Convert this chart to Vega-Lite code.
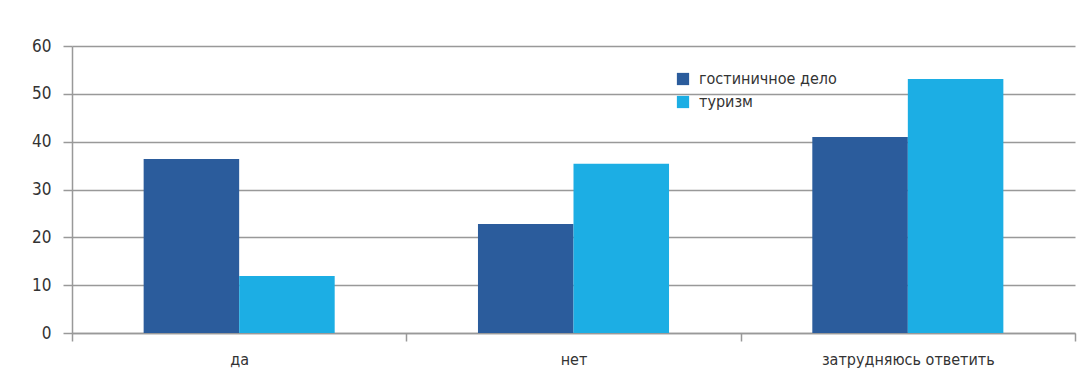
{
  "$schema": "https://vega.github.io/schema/vega-lite/v6.json",
  "width": 1003,
  "height": 287,
  "autosize": {"type": "none"},
  "padding": {"left": 72, "top": 46, "right": 13, "bottom": 54},
  "background": "white",
  "config": {
    "view": {"stroke": null},
    "font": "DejaVu Sans Condensed, sans-serif"
  },
  "data": {
    "values": [
      {"answer": "да", "group": "гостиничное дело", "value": 36.4},
      {"answer": "да", "group": "туризм", "value": 11.9},
      {"answer": "нет", "group": "гостиничное дело", "value": 22.8},
      {"answer": "нет", "group": "туризм", "value": 35.4},
      {"answer": "затрудняюсь ответить", "group": "гостиничное дело", "value": 41.0},
      {"answer": "затрудняюсь ответить", "group": "туризм", "value": 53.1}
    ]
  },
  "mark": {"type": "bar"},
  "encoding": {
    "x": {
      "field": "answer",
      "type": "nominal",
      "sort": ["да", "нет", "затрудняюсь ответить"],
      "scale": {"paddingInner": 0, "paddingOuter": 0},
      "axis": {
        "title": null,
        "labelAngle": 0,
        "labelFontSize": 16,
        "labelLimit": 0,
        "labelColor": "#333333",
        "labelPadding": 10,
        "tickBand": "extent",
        "tickSize": 8,
        "tickColor": "#999999",
        "tickWidth": 1.5,
        "domainColor": "#999999",
        "domainWidth": 1.5,
        "grid": false
      }
    },
    "xOffset": {
      "field": "group",
      "type": "nominal",
      "sort": ["гостиничное дело", "туризм"],
      "scale": {"paddingInner": 0, "paddingOuter": 0.75}
    },
    "y": {
      "field": "value",
      "type": "quantitative",
      "scale": {"domain": [0, 60], "nice": false},
      "axis": {
        "title": null,
        "values": [0, 10, 20, 30, 40, 50, 60],
        "labelFontSize": 17,
        "labelColor": "#333333",
        "labelPadding": 12,
        "tickSize": 9,
        "tickColor": "#999999",
        "tickWidth": 1.5,
        "domainColor": "#999999",
        "domainWidth": 1.5,
        "grid": true,
        "gridColor": "#999999",
        "gridWidth": 1.5
      }
    },
    "color": {
      "field": "group",
      "type": "nominal",
      "sort": ["гостиничное дело", "туризм"],
      "scale": {"domain": ["гостиничное дело", "туризм"], "range": ["#2b5c9c", "#1caee4"]},
      "legend": {
        "title": null,
        "orient": "none",
        "legendX": 603,
        "legendY": 25,
        "symbolType": "square",
        "symbolSize": 150,
        "symbolStrokeWidth": 0,
        "labelFontSize": 16,
        "labelLimit": 0,
        "labelColor": "#333333",
        "rowPadding": 7,
        "labelOffset": 8
      }
    }
  }
}
